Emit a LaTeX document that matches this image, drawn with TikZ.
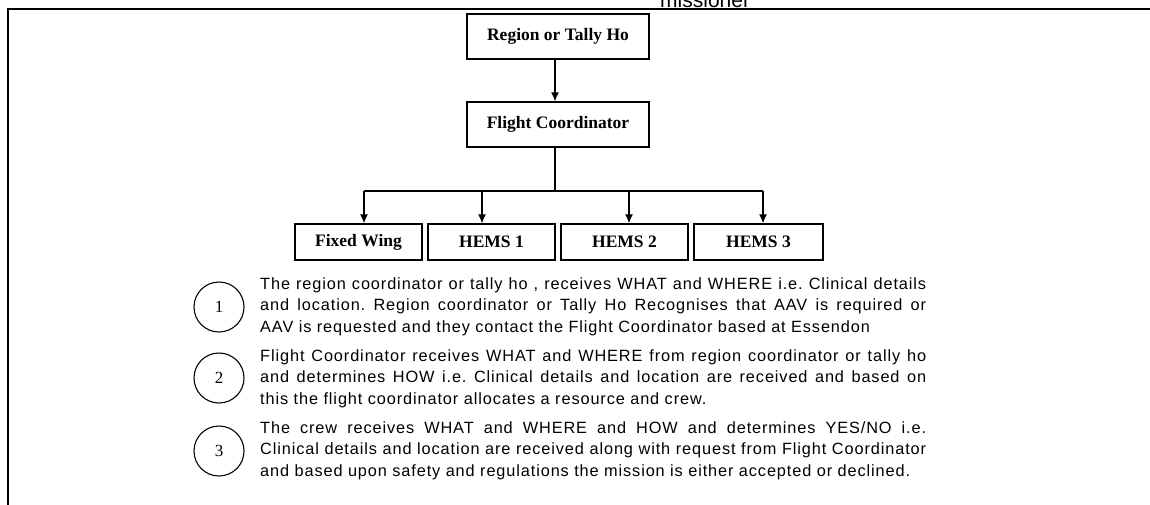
\documentclass[tikz,border=0pt]{standalone}
\usepackage{fontspec}
\setmainfont{Liberation Serif}
\newfontfamily\arialf[LetterSpace=5.5]{Liberation Sans}
\newfontfamily\capf{Liberation Sans}
\usetikzlibrary{arrows.meta}
\frenchspacing
\newcommand\jline[1]{\makebox[666pt][s]{#1}}
\begin{document}
\begin{tikzpicture}[x=1pt,y=-1pt,
  box/.style={draw, line width=1.3pt, inner sep=0pt, font=\bfseries\fontsize{17.5}{18}\selectfont},
  bigbox/.style={box, minimum width=182pt, minimum height=45pt},
  smallbox/.style={box, minimum width=127pt, minimum height=36pt},
  link/.style={line width=1.3pt},
  arr/.style={line width=1.3pt, -{Latex[length=9pt,width=8pt]}},
  num/.style={draw, circle, line width=1.1pt, minimum size=50pt, inner sep=0pt, font=\fontsize{17}{18}\selectfont},
  para/.style={anchor=base west, align=left, inner sep=0pt, font=\arialf\fontsize{16.3}{21.5}\selectfont},
  frame/.style={line width=2.2pt}]
\useasboundingbox (0,0) rectangle (1150,504);
\fill[white] (0,0) rectangle (1150,504);
% frame
\coordinate (fTL) at (8,9);
\coordinate (fTR) at (1152,9);
\coordinate (fBL) at (8,506);
\draw[frame] (fBL) -- (fTL) -- (fTR);
% clipped caption at top
\node[anchor=base west, inner sep=0pt, font=\capf\fontsize{21}{22}\selectfont] (cap) at (660,7) {missioner};
% boxes
\node[bigbox] (reg) at (558,36.5) {Region or Tally Ho};
\node[bigbox] (fc) at (558,124.5) {Flight Coordinator};
\node[smallbox] (fw) at (358.5,242) {Fixed Wing};
\node[smallbox] (h1) at (491.5,242) {HEMS 1};
\node[smallbox] (h2) at (624.5,242) {HEMS 2};
\node[smallbox, minimum width=129pt] (h3) at (758.5,242) {HEMS 3};
% connectors
\draw[arr] (reg.south -| 555,0) -- (fc.north -| 555,0);
\coordinate (bc) at (555,191);
\coordinate (b1) at (364,191);
\coordinate (b2) at (482,191);
\coordinate (b3) at (629,191);
\coordinate (b4) at (763,191);
\draw[link] (fc.south -| bc) -- (bc);
\draw[link] (b1) -- (b4);
\draw[arr] (b1) -- (b1 |- fw.north);
\draw[arr] (b2) -- (b2 |- h1.north);
\draw[arr] (b3) -- (b3 |- h2.north);
\draw[arr] (b4) -- (b4 |- h3.north);
% numbered circles
\node[num] (n1) at (219,307) {1};
\node[num] (n2) at (219,378) {2};
\node[num] (n3) at (219,451) {3};
% paragraphs
\node[para] (p1) at (260,332) {\jline{The region coordinator or tally ho , receives WHAT and WHERE i.e. Clinical details}\\
\jline{and location. Region coordinator or Tally Ho Recognises that AAV is required or}\\
AAV is requested and they contact the Flight Coordinator based at Essendon};
\node[para] (p2) at (260,404) {\jline{Flight Coordinator receives WHAT and WHERE from region coordinator or tally ho}\\
\jline{and determines HOW i.e. Clinical details and location are received and based on}\\
this the flight coordinator allocates a resource and crew.};
\node[para] (p3) at (260,476) {\jline{The crew receives WHAT and WHERE and HOW and determines YES/NO i.e.}\\
\jline{Clinical details and location are received along with request from Flight Coordinator}\\
and based upon safety and regulations the mission is either accepted or declined.};
\end{tikzpicture}
\end{document}
